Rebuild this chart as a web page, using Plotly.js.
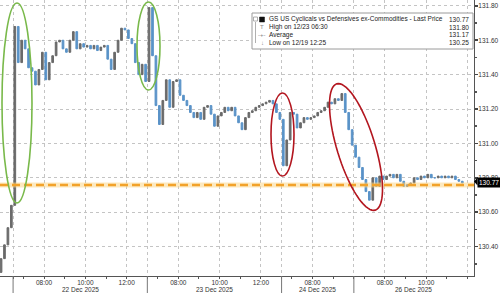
<!DOCTYPE html>
<html><head><meta charset="utf-8">
<script src="https://cdn.plot.ly/plotly-3.0.1.min.js"></script>
<style>html,body{margin:0;padding:0;background:#fff}#chart{width:500px;height:293px}</style>
</head><body><div id="chart"></div>
<script>
// ---- data (10-minute bars, closes) ----
const sessionDays   = ['2025-12-19','2025-12-22','2025-12-23','2025-12-24','2025-12-26'];
const sessionStarts = ['12:20','06:30','06:30','06:30','06:30'];
const firstOpen = 130.25;
const dec19Close = [130.33,130.41,130.51,130.64];
const dec22Close = [131.68,131.47,131.60,131.55,131.44,131.42,131.34,131.43,131.53,131.37,
                    131.47,131.51,131.59,131.60,131.55,131.53,131.60,131.65,131.55,131.58,
                    131.56,131.57,131.55,131.57,131.54,131.56,131.57,131.49,131.43,131.53,
                    131.60,131.67,131.66,131.61,131.58,131.47,131.40,131.46,131.36];
const dec23Close = [131.79,131.51,131.22,131.11,131.25,131.37,131.21,131.36,131.37,131.28,
                    131.25,131.22,131.18,131.15,131.18,131.14,131.21,131.22,131.17,131.10,
                    131.16,131.18,131.21,131.19,131.21,131.16,131.12,131.08,131.15,131.18,
                    131.19,131.21,131.22,131.23,131.24,131.25,131.23,131.18,131.14];
const dec24Close = [130.87,131.02,131.18,131.17,131.09,131.12,131.15,131.14,131.15,131.16,
                    131.18,131.19,131.21,131.24,131.23,131.26,131.25,131.29,131.18,131.08,130.99];
const dec26Close = [130.92,130.86,130.79,130.72,130.67,130.80,130.75,130.81,130.79,130.81,
                    130.82,130.80,130.82,130.78,130.75,130.76,130.77,130.80,130.79,130.81,
                    130.80,130.82,130.80,130.80,130.81,130.80,130.81,130.80,130.81,130.79,
                    130.78,130.77];
const closesByDay = [dec19Close, dec22Close, dec23Close, dec24Close, dec26Close];
const barMinutes = 10;

const lastPrice = 130.77, highPrice = 131.80, avgPrice = 131.17, lowPrice = 130.25;
const dashedLevel = 130.758;
const seriesName = 'GS US Cyclicals vs Defensives ex-Commodities - Last Price';
const legendRows = [
  [seriesName, lastPrice],
  ['High on 12/23 06:30', highPrice],
  ['Average', avgPrice],
  ['Low on 12/19 12:25', lowPrice]
];

const tickTimes  = ['2025-12-22 08:00','2025-12-22 10:00','2025-12-22 12:00',
                    '2025-12-23 08:00','2025-12-23 10:00','2025-12-23 12:00',
                    '2025-12-24 08:00',
                    '2025-12-26 08:00','2025-12-26 10:00','2025-12-26 12:00'];
const tickLabels = ['08:00','10:00','12:00','08:00','10:00','12:00','08:00','08:00','10:00',''];
const dayStarts  = ['2025-12-22 06:30','2025-12-23 06:30','2025-12-24 06:30','2025-12-26 06:30'];
const minorTimes = ['2025-12-22 07:00','2025-12-22 09:00','2025-12-22 11:00',
                    '2025-12-23 07:00','2025-12-23 09:00','2025-12-23 11:00',
                    '2025-12-24 07:00','2025-12-24 09:00',
                    '2025-12-26 07:00','2025-12-26 09:00','2025-12-26 11:00'];
const dayLabels   = ['22 Dec 2025','23 Dec 2025','24 Dec 2025','26 Dec 2025'];
const dayLabelPos = ['2025-12-22 09:45','2025-12-23 09:45','2025-12-24 08:14','2025-12-26 09:24'];

// ---- build OHLC ----
function tAdd(day, hhmm, add){
  const p = hhmm.split(':').map(Number);
  const tot = p[0]*60 + p[1] + add;
  return day + ' ' + String(Math.floor(tot/60)).padStart(2,'0') + ':' + String(tot%60).padStart(2,'0');
}
const X=[],O=[],H=[],L=[],C=[];
let prev = firstOpen;
closesByDay.forEach((arr, d) => {
  arr.forEach((c, i) => {
    X.push(tAdd(sessionDays[d], sessionStarts[d], i*barMinutes + barMinutes/2));
    O.push(prev); C.push(c); H.push(Math.max(prev,c)); L.push(Math.min(prev,c));
    prev = c;
  });
});

// ---- geometry helpers (pixel -> paper) ----
const W = 474, Ht = 276;
const px = v => v / W, py = v => 1 - v / Ht;
function ellipsePath(cx, cy, a, b, angDeg){
  const t = angDeg*Math.PI/180; let s = '';
  for (let k=0;k<=72;k++){
    const u = k/72*2*Math.PI;
    const x = cx + a*Math.cos(u)*Math.cos(t) - b*Math.sin(u)*Math.sin(t);
    const y = cy + a*Math.cos(u)*Math.sin(t) + b*Math.sin(u)*Math.cos(t);
    s += (k?'L':'M') + px(x).toFixed(5) + ',' + py(y).toFixed(5);
  }
  return s + 'Z';
}
const FONT = 'Liberation Sans, Arial, sans-serif';
const FS = 6.5;
const green = '#79b94a', red = '#b3161f';

const shapes = [
  {type:'line', xref:'paper', x0:0, x1:1, yref:'y', y0:dashedLevel, y1:dashedLevel,
   line:{color:'rgba(250,215,140,0.55)', width:5}},
  {type:'line', xref:'paper', x0:0, x1:1, yref:'y', y0:dashedLevel, y1:dashedLevel,
   line:{color:'#f2a22a', width:2.5, dash:'8px,4px'}},
  {type:'circle', xref:'paper', yref:'paper', x0:px(2), x1:px(32), y0:py(203), y1:py(3),
   line:{color:green, width:1.6}},
  {type:'circle', xref:'paper', yref:'paper', x0:px(137), x1:px(160), y0:py(90), y1:py(2),
   line:{color:green, width:1.6}},
  {type:'circle', xref:'paper', yref:'paper', x0:px(271), x1:px(294), y0:py(176), y1:py(93),
   line:{color:red, width:1.6}},
  {type:'path', xref:'paper', yref:'paper', path:ellipsePath(356,147,66,19,73),
   line:{color:red, width:1.6}},
  // legend box
  {type:'rect', xref:'paper', yref:'paper', x0:px(252), x1:px(473), y0:py(49), y1:py(13),
   fillcolor:'#fff', line:{color:'#9a9a9a', width:1}},
  {type:'line', xref:'paper', yref:'paper', x0:px(255.5), x1:px(255.5), y0:py(22), y1:py(43),
   line:{color:'#b0b0b0', width:1}},
  {type:'rect', xref:'paper', yref:'paper', x0:px(253.5), x1:px(257.5), y0:py(21), y1:py(17),
   fillcolor:'#fff', line:{color:'#999', width:0.8}},
  {type:'rect', xref:'paper', yref:'paper', x0:px(259.5), x1:px(264.5), y0:py(22), y1:py(17),
   fillcolor:'#111', line:{color:'#111', width:0.5}},
  // last price pointer
  {type:'path', xref:'paper', yref:'paper',
   path:'M'+px(474)+','+py(181.5)+'L'+px(477.5)+','+py(177.5)+'L'+px(477.5)+','+py(185.5)+'Z',
   fillcolor:'#000', line:{width:0}}
];
dayStarts.forEach(d => shapes.push({type:'line', xref:'x', x0:d, x1:d, yref:'paper',
  y0:-17/Ht, y1:0, line:{color:'#777', width:1}}));

const annotations = [];
legendRows.forEach((r, i) => {
  const yy = py(19.5 + i*7.7);
  annotations.push({xref:'paper', yref:'paper', x:px(266.5), y:yy, xanchor:'left', yanchor:'middle',
    text:r[0], showarrow:false, font:{family:FONT, size:FS, color:'#222'}});
  annotations.push({xref:'paper', yref:'paper', x:px(471), y:yy, xanchor:'right', yanchor:'middle',
    text:r[1].toFixed(2), showarrow:false, font:{family:FONT, size:FS, color:'#222'}});
});
['T','-+-','↓'].forEach((g, i) => annotations.push({xref:'paper', yref:'paper', x:px(262),
  y:py(27.2 + i*7.7), xanchor:'center', yanchor:'middle', text:g, showarrow:false,
  font:{family:FONT, size:6, color:'#888'}}));
annotations.push({xref:'paper', yref:'y', x:px(477.3), y:lastPrice+0.005, xanchor:'left', yanchor:'middle',
  text:lastPrice.toFixed(2), showarrow:false, bgcolor:'#000', borderpad:1,
  font:{family:FONT, size:FS, color:'#fff'}});
dayLabels.forEach((s, i) => annotations.push({xref:'x', yref:'paper', x:dayLabelPos[i], y:-(289.5-Ht)/Ht,
  xanchor:'center', yanchor:'middle', text:s, showarrow:false, font:{family:FONT, size:FS, color:'#333'}}));

const trace = {
  type:'candlestick', x:X, open:O, high:H, low:L, close:C, whiskerwidth:0,
  increasing:{line:{color:'#6a6a6a', width:1}, fillcolor:'#6a6a6a'},
  decreasing:{line:{color:'#5a93c8', width:1}, fillcolor:'#5a93c8'},
  hoverinfo:'skip', showlegend:false
};

const layout = {
  width:500, height:293, margin:{l:0, r:26, t:0, b:17},
  paper_bgcolor:'#fff', plot_bgcolor:'#fff', showlegend:false,
  font:{family:FONT, size:FS, color:'#333'},
  xaxis:{
    type:'date', range:['2025-12-19 12:22','2025-12-26 12:19'],
    rangeslider:{visible:false},
    rangebreaks:[
      {bounds:['sat','mon']},
      {values:['2025-12-25']},
      {values:['2025-12-24 10:00'], dvalue:3*3600*1000},
      {pattern:'hour', bounds:[13, 6.5]}
    ],
    tickmode:'array', tickvals:tickTimes.concat(dayStarts), ticktext:tickLabels.concat(dayStarts.map(()=>'')),
    showgrid:true, gridcolor:'#c4c4c4', griddash:'dot', gridwidth:1,
    ticks:'outside', ticklen:2, tickcolor:'#555', showline:true, linecolor:'#555', linewidth:1,
    ticklabelstandoff:-2,
    tickfont:{family:FONT, size:FS, color:'#333'}, zeroline:false, fixedrange:true,
    minor:{tickmode:'array', tickvals:minorTimes, ticks:'outside', ticklen:2, tickcolor:'#555', showgrid:false}
  },
  yaxis:{
    side:'right', range:[130.229, 131.834], tickmode:'linear', tick0:130.4, dtick:0.2, tickformat:'.2f',
    showgrid:true, gridcolor:'#c4c4c4', griddash:'dot', gridwidth:1,
    ticks:'outside', ticklen:3, tickwidth:1.5, tickcolor:'#444', showline:true, linecolor:'#555', linewidth:1,
    ticklabelstandoff:-1,
    tickfont:{family:FONT, size:FS, color:'#333'}, zeroline:false, fixedrange:true,
    minor:{dtick:0.1, ticks:'outside', ticklen:2, tickcolor:'#555', showgrid:false}
  },
  shapes:shapes, annotations:annotations
};
Plotly.newPlot('chart', [trace], layout, {staticPlot:true, displayModeBar:false});
</script></body></html>
